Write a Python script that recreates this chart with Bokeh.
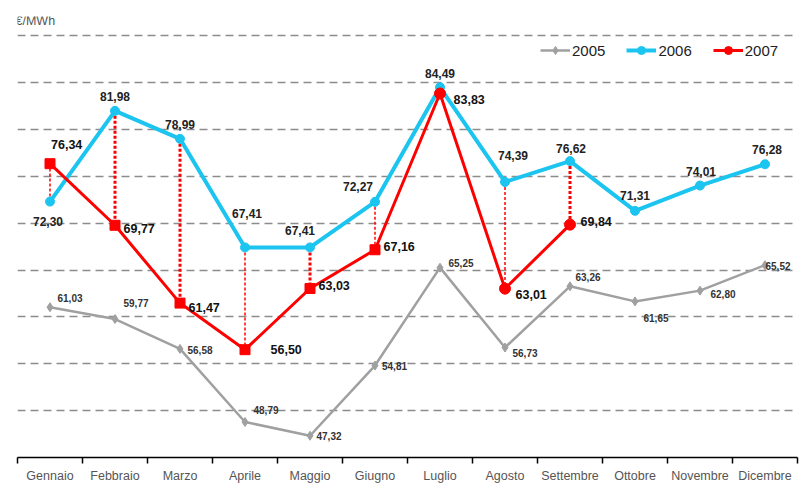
from bokeh.plotting import figure
from bokeh.models import Range1d, FixedTicker, Legend, LegendItem, Label
from bokeh.embed import file_html
from bokeh.resources import INLINE
from bokeh.core.properties import value

# ---- data ----
months = ["Gennaio", "Febbraio", "Marzo", "Aprile", "Maggio", "Giugno",
          "Luglio", "Agosto", "Settembre", "Ottobre", "Novembre", "Dicembre"]
y2005 = [61.03, 59.77, 56.58, 48.79, 47.32, 54.81, 65.25, 56.73, 63.26, 61.65, 62.80, 65.52]
y2006 = [72.30, 81.98, 78.99, 67.41, 67.41, 72.27, 84.49, 74.39, 76.62, 71.31, 74.01, 76.28]
y2007 = [76.34, 69.77, 61.47, 56.50, 63.03, 67.16, 83.83, 63.01, 69.84]
grid_values = [50, 55, 60, 65, 70, 75, 80, 85, 90]
unit_label = "€/MWh"

# ---- styles / label placement ----
FONT = value("Liberation Sans")
C05, C06, C07 = "#a0a0a0", "#1cc4f0", "#ff0000"
seg_widths = [1.5, 3, 3, 1.5, 3, 1.5, 1.5, 1.5, 3]
markers07 = ["square"] * 6 + ["circle"] * 3
sizes07 = [10] * 6 + [11] * 3
off06 = [(-2, 20), (0, -14), (0, -14), (2, -34), (-10, -17), (-17, -15),
         (0, -14), (8, -26), (1, -13), (0, -15), (1, -14), (2, -15)]
off07 = [(1, -19), (8.5, 3), (8.5, 4), (25.5, 0), (8.5, -3), (8.5, -3),
         (13.5, 6), (10.5, 6), (10.5, -3)]
off05 = [(7.5, -9), (8.5, -16), (7.5, 1), (8.5, -12), (6.5, 0), (7, 0),
         (8.5, -5), (7.5, 5), (5.5, -9), (8.5, 17), (10.5, 3), (0.5, 1)]


def fmt(v):
    return f"{v:.2f}".replace(".", ",")


xs = [i + 0.5 for i in range(len(months))]
x07 = xs[:len(y2007)]

p = figure(width=800, height=486, x_range=Range1d(0, 12), y_range=Range1d(45, 92.04),
           output_backend="svg", toolbar_location=None,
           min_border_left=17, min_border_right=3, min_border_top=16, min_border_bottom=29,
           outline_line_color=None, background_fill_color="white", border_fill_color="white")

# axes
p.yaxis.visible = False
xa = p.xaxis[0]
xa.ticker = FixedTicker(ticks=xs, minor_ticks=list(range(13)))
xa.major_label_overrides = {x: m for x, m in zip(xs, months)}
xa.major_tick_out = 0
xa.major_tick_in = 0
xa.minor_tick_out = 6
xa.minor_tick_in = 0
xa.minor_tick_line_color = "black"
xa.minor_tick_line_width = 1.5
xa.axis_line_color = "black"
xa.axis_line_width = 1.5
xa.major_label_standoff = 5
xa.major_label_text_font = "Liberation Sans"
xa.major_label_text_font_size = "12.5px"
xa.major_label_text_color = "#555555"

p.xgrid.visible = False
p.ygrid.ticker = FixedTicker(ticks=grid_values)
p.ygrid.grid_line_color = "#8c8c8c"
p.ygrid.grid_line_width = 1.5
p.ygrid.grid_line_dash = "8 5"

# vertical connectors 2006 -> 2007
p.segment(x0=x07, y0=y2006[:len(y2007)], x1=x07, y1=y2007,
          line_color=C07, line_width=seg_widths, line_dash="3 2")

# series
l05 = p.line(xs, y2005, line_color=C05, line_width=2.5)
m05 = p.scatter(xs, y2005, marker="diamond", size=9, fill_color=C05, line_color=C05)
l06 = p.line(xs, y2006, line_color=C06, line_width=4)
m06 = p.scatter(xs, y2006, marker="circle", size=9, fill_color=C06, line_color=C06)
l07 = p.line(x07, y2007, line_color=C07, line_width=3)
m07 = p.scatter(x=x07, y=y2007, marker=markers07, size=sizes07, fill_color=C07, line_color=C07)

# data labels
p.text(x=xs, y=y2005, text=[fmt(v) for v in y2005],
       x_offset=[o[0] for o in off05], y_offset=[o[1] for o in off05],
       text_font=FONT, text_font_size="10px", text_font_style="bold",
       text_color="#333333", text_align="left", text_baseline="middle")
p.text(x=xs, y=y2006, text=[fmt(v) for v in y2006],
       x_offset=[o[0] for o in off06], y_offset=[o[1] for o in off06],
       text_font=FONT, text_font_size="12px", text_font_style="bold",
       text_color="#222222", text_align="center", text_baseline="middle")
p.text(x=x07, y=y2007, text=[fmt(v) for v in y2007],
       x_offset=[o[0] for o in off07], y_offset=[o[1] for o in off07],
       text_font=FONT, text_font_size="12.5px", text_font_style="bold",
       text_color="#111111", text_align="left", text_baseline="middle")

# unit label
p.add_layout(Label(x=0, y=92.04, x_offset=-2, y_offset=-4, text=unit_label,
                   text_font="Liberation Sans", text_font_size="12.5px",
                   text_color="#555555", text_baseline="middle", text_align="left"))

legend = Legend(items=[LegendItem(label="2005", renderers=[l05, m05]),
                       LegendItem(label="2006", renderers=[l06, m06]),
                       LegendItem(label="2007", renderers=[l07, m07], index=6)],
                location=(523, 397), orientation="horizontal",
                glyph_width=30, glyph_height=20, label_height=20, label_standoff=2,
                spacing=21, padding=0, margin=0, border_line_color=None,
                background_fill_alpha=0, label_text_font="Liberation Sans",
                label_text_font_size="15px", label_text_color="#222222")
p.add_layout(legend)

open("out.html", "w").write(file_html(p, INLINE))
